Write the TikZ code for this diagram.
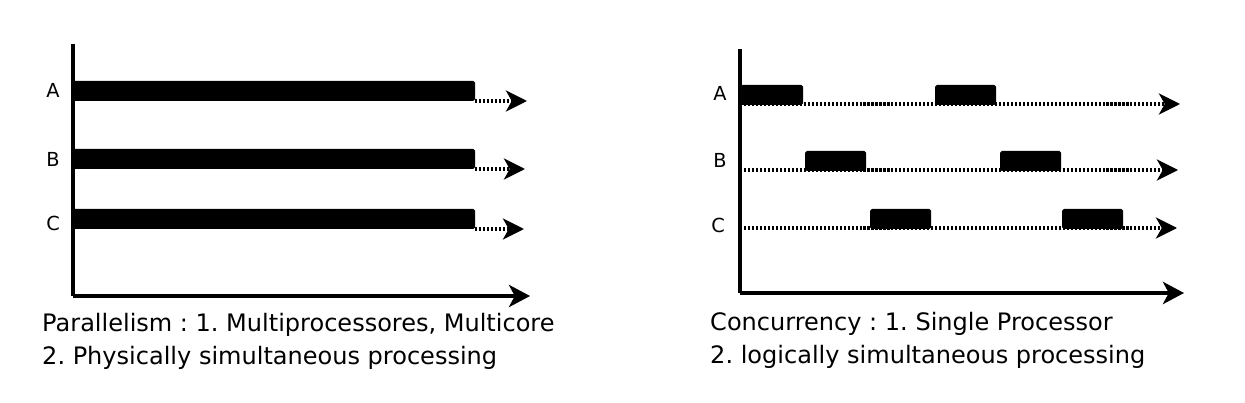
\documentclass[tikz,border=0pt]{standalone}
\usepackage{fontspec}
\setmainfont{DejaVu Sans}
\usetikzlibrary{arrows.meta}

\tikzset{
  axis/.style={line width=2.8pt,-{Stealth[length=18pt,width=19pt,inset=5pt]}},
  run/.style={line width=2.8pt,dash pattern=on 1.8pt off 1.6pt,-{Stealth[length=18pt,width=18pt,inset=5pt]}},
  bar/.style={fill=black,rounded corners=1.5pt},
  lbl/.style={font=\fontsize{16.5}{16.5}\selectfont},
  caption/.style={anchor=base west,font=\fontsize{20.5}{20.5}\selectfont,inner sep=0pt}
}

\begin{document}
\frenchspacing
\begin{tikzpicture}[x=0.03cm,y=-0.03cm]
  \useasboundingbox (0,0) rectangle (1245,403);
  % parallelism
  \coordinate (pO) at (73,296);
  \coordinate (pY) at (73,44);
  \coordinate (pX) at (530,296);
  \draw [axis,-] (pY) -- (pO);
  \draw [axis] (pO) -- (pX);
  \node (pA) at (53,90) [lbl] {A};
  \node (pB) at (53,159) [lbl] {B};
  \node (pC) at (53,223) [lbl] {C};
  \coordinate (pAe) at (475,101);
  \coordinate (pBe) at (475,169);
  \coordinate (pCe) at (475,229);
  \fill [bar] (73,81) rectangle (pAe);
  \fill [bar] (73,149) rectangle (pBe);
  \fill [bar] (73,209) rectangle (pCe);
  \draw [run] (pAe) -- (527,101);
  \draw [run] (pBe) -- (525,169);
  \draw [run] (pCe) -- (524,229);
\node (pT1) at (42,331) [caption] {Parallelism : 1. Multiprocessores, Multicore};
\node (pT2) at (42,364) [caption] {2. Physically simultaneous processing};
  % concurrency
  \coordinate (cO) at (740,293);
  \coordinate (cY) at (740,49);
  \coordinate (cX) at (1184,293);
  \draw [axis,-] (cY) -- (cO);
  \draw [axis] (cO) -- (cX);
  \node (cA) at (720,93) [lbl] {A};
  \node (cB) at (720,160) [lbl] {B};
  \node (cC) at (718,225) [lbl] {C};
  \coordinate (cAs) at (740,104);
  \coordinate (cBs) at (740,170);
  \coordinate (cCs) at (740,228);
  \draw [run] (cAs) -- (1180,104);
  \draw [run] (cBs) -- (1178,170);
  \draw [run] (cCs) -- (1177,228);
  \fill [bar] (740,85) rectangle (803,105);
  \fill [bar] (935,85) rectangle (996,105);
  \fill [bar] (805,151) rectangle (866,171);
  \fill [bar] (1000,151) rectangle (1061,171);
  \fill [bar] (870,209) rectangle (931,229);
  \fill [bar] (1062,209) rectangle (1123,229);
\node (cT1) at (710,330) [caption] {Concurrency : 1. Single Processor};
\node (cT2) at (710,363) [caption] {2. logically simultaneous processing};
\end{tikzpicture}
\end{document}
